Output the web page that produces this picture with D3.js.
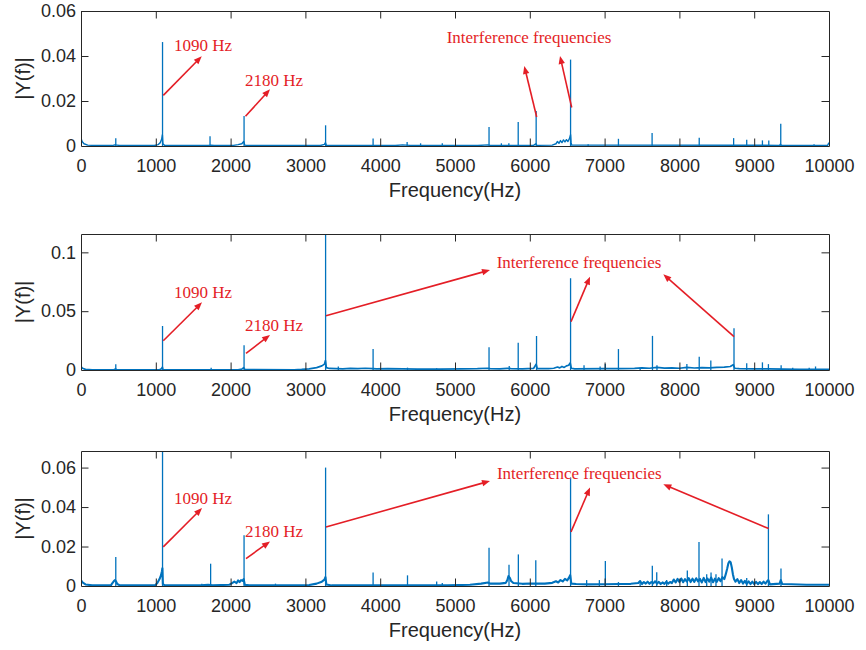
<!DOCTYPE html>
<html><head><meta charset="utf-8">
<script src="https://cdn.jsdelivr.net/npm/d3@7/dist/d3.min.js"></script>
<style>body{margin:0;background:#fff}svg{display:block}</style>
</head><body><svg id="c" width="866" height="650"></svg>
<script>
// ---------------- DATA ----------------
const xTickValues = [0,1000,2000,3000,4000,5000,6000,7000,8000,9000,10000];
const p1YTicks = [0,0.02,0.04,0.06];
const p2YTicks = [0,0.05,0.1];
const p3YTicks = [0,0.02,0.04,0.06];
const yMaxes = [0.06, 0.1156, 0.0684];

// spectral lines [frequency Hz, |Y(f)|]
const p1Peaks = [[465,0.0034],[1090,0.0462],[1725,0.0043],[2180,0.0133],[3270,0.0092],[3905,0.0033],[4360,0.0018],[4540,0.0012],[4830,0.0012],[5455,0.0084],[5620,0.0012],[5720,0.0012],[5845,0.0107],[6085,0.0156],[6545,0.0384],[6780,0.0008],[7185,0.0032],[7635,0.0058],[8265,0.0037],[8725,0.0035],[8900,0.0028],[9110,0.0025],[9195,0.0025],[9355,0.0099],[9800,0.0008]];
const p2Peaks = [[465,0.0048],[1090,0.0374],[1740,0.002],[2180,0.021],[3270,0.1156],[3440,0.003],[3905,0.0178],[4365,0.002],[4755,0.0015],[5455,0.0193],[5725,0.0035],[5845,0.0232],[6090,0.0289],[6545,0.078],[6725,0.004],[6940,0.003],[7010,0.005],[7185,0.0178],[7475,0.002],[7640,0.029],[7700,0.004],[8100,0.005],[8265,0.0113],[8420,0.008],[8730,0.0355],[8900,0.0057],[9110,0.0065],[9190,0.005],[9360,0.004],[9515,0.002],[9735,0.002],[9820,0.003]];
const p3Peaks = [[465,0.0147],[1090,0.0684],[1615,0.0012],[1733,0.0113],[2180,0.0257],[2600,0.0012],[3270,0.060],[3905,0.0068],[4365,0.0054],[4755,0.0023],[4830,0.0015],[5455,0.0194],[5722,0.0108],[5847,0.016],[6080,0.013],[6545,0.055],[6760,0.003],[6930,0.003],[7010,0.0127],[7185,0.002],[7475,0.002],[7638,0.0103],[7697,0.007],[7830,0.003],[8106,0.0078],[8262,0.0223],[8365,0.006],[8423,0.0068],[8489,0.006],[8570,0.0139],[8900,0.004],[9190,0.0363],[9358,0.0089]];

// background spectrum / skirts [frequency Hz, |Y(f)|]
const p1Floor = [[0,0.0035],[15,0.002],[40,0.001],[90,0.0004],[200,0.0002],[420,0.0002],[450,0.0005],[480,0.0004],[520,0.0002],[980,0.0002],[1030,0.0006],[1060,0.0015],[1078,0.003],[1088,0.005],[1095,0.001],[1120,0.0002],[1700,0.0002],[1740,0.0004],[1780,0.0002],[2040,0.0003],[2100,0.0006],[2150,0.001],[2175,0.002],[2190,0.0004],[2230,0.0002],[3200,0.0002],[3255,0.0007],[3268,0.0015],[3280,0.0003],[4200,0.0002],[4300,0.0005],[4400,0.0003],[5300,0.0002],[5440,0.0005],[5470,0.0003],[6050,0.0003],[6080,0.001],[6095,0.0003],[6300,0.0004],[6350,0.001],[6370,0.002],[6390,0.0012],[6410,0.0024],[6430,0.0015],[6450,0.0027],[6470,0.0018],[6490,0.0028],[6510,0.002],[6530,0.0033],[6545,0.005],[6552,0.0015],[6560,0.0004],[9340,0.0003],[9350,0.0008],[9365,0.0002],[9980,0.0002],[10000,0.0015]];
const p2Floor = [[0,0.003],[20,0.0015],[60,0.0005],[150,0.0002],[440,0.0002],[460,0.0008],[480,0.0002],[1050,0.0002],[1075,0.001],[1088,0.0025],[1095,0.0004],[2100,0.0002],[2150,0.0008],[2175,0.002],[2190,0.0004],[2850,0.0002],[2950,0.0005],[3050,0.001],[3150,0.002],[3220,0.0035],[3255,0.005],[3268,0.008],[3280,0.002],[3320,0.0013],[3500,0.001],[3600,0.0014],[3700,0.0011],[3800,0.0015],[3900,0.0012],[3950,0.001],[4100,0.0011],[4300,0.0009],[4500,0.0008],[4800,0.0008],[5100,0.0009],[5300,0.0011],[5440,0.0015],[5470,0.0012],[5600,0.001],[5700,0.0014],[5750,0.0012],[5900,0.001],[6050,0.0013],[6085,0.005],[6100,0.0012],[6250,0.0012],[6320,0.0015],[6370,0.0025],[6400,0.0018],[6430,0.003],[6460,0.0022],[6490,0.0035],[6520,0.004],[6540,0.006],[6555,0.0015],[6600,0.001],[7000,0.0012],[7200,0.0012],[7400,0.0013],[7500,0.0018],[7600,0.0015],[7700,0.0022],[7800,0.0016],[7900,0.0018],[8000,0.0015],[8100,0.0022],[8200,0.0017],[8300,0.002],[8400,0.0018],[8500,0.0022],[8600,0.0025],[8680,0.003],[8720,0.0045],[8740,0.0015],[8800,0.0012],[9000,0.001],[9200,0.0009],[9400,0.0007],[9600,0.0006],[9800,0.0005],[10000,0.0006]];
const p3Floor = [[0,0.003],[20,0.0018],[60,0.0008],[150,0.0003],[400,0.0003],[420,0.0015],[440,0.0025],[455,0.003],[470,0.0022],[485,0.001],[520,0.0003],[990,0.0003],[1020,0.0015],[1050,0.0035],[1070,0.0055],[1082,0.0075],[1088,0.009],[1095,0.001],[1120,0.0003],[1600,0.0003],[1700,0.0006],[1760,0.0004],[1980,0.0006],[2020,0.0015],[2050,0.0022],[2080,0.0015],[2100,0.0028],[2120,0.002],[2140,0.003],[2160,0.0026],[2175,0.0035],[2190,0.0006],[2250,0.0003],[2950,0.0003],[3050,0.0005],[3150,0.0012],[3220,0.0022],[3255,0.0032],[3268,0.0045],[3280,0.0008],[3350,0.0003],[3900,0.0004],[4500,0.0003],[4900,0.0004],[5200,0.0006],[5350,0.0012],[5440,0.0018],[5470,0.0012],[5600,0.0012],[5680,0.0016],[5700,0.003],[5715,0.005],[5735,0.004],[5750,0.0025],[5780,0.0015],[5900,0.0011],[6000,0.0013],[6200,0.0012],[6300,0.0016],[6350,0.0024],[6380,0.0018],[6410,0.003],[6440,0.0023],[6470,0.0036],[6500,0.0028],[6520,0.004],[6540,0.0055],[6555,0.0012],[6620,0.001],[6800,0.0008],[7000,0.0009],[7200,0.001],[7350,0.0011],[7450,0.0015],[7475,0.0025],[7500,0.001],[7525,0.002],[7550,0.0012],[7575,0.0022],[7600,0.0011],[7625,0.002],[7650,0.0013],[7675,0.0024],[7700,0.0012],[7725,0.0021],[7750,0.001],[7775,0.0018],[7800,0.0011],[7825,0.0022],[7850,0.0012],[7875,0.002],[7900,0.0015],[7925,0.0033],[7950,0.0018],[7975,0.0036],[8000,0.002],[8025,0.0038],[8050,0.0019],[8075,0.0035],[8100,0.0022],[8125,0.004],[8150,0.002],[8175,0.0037],[8200,0.0021],[8225,0.0039],[8250,0.0023],[8275,0.0036],[8300,0.0018],[8325,0.0041],[8350,0.002],[8375,0.0038],[8400,0.0022],[8425,0.0043],[8450,0.0019],[8475,0.0037],[8500,0.0021],[8525,0.004],[8550,0.0024],[8575,0.0045],[8600,0.0035],[8620,0.006],[8640,0.009],[8655,0.0115],[8670,0.0125],[8685,0.012],[8700,0.0095],[8715,0.006],[8730,0.0035],[8750,0.0022],[8775,0.0035],[8800,0.0015],[8825,0.003],[8850,0.0012],[8875,0.0026],[8900,0.0011],[8925,0.0024],[8950,0.001],[8975,0.0022],[9000,0.001],[9025,0.0021],[9050,0.0009],[9075,0.002],[9100,0.001],[9125,0.0022],[9150,0.0012],[9175,0.0025],[9190,0.003],[9210,0.0008],[9340,0.0012],[9355,0.003],[9375,0.001],[9500,0.0009],[9700,0.0006],[10000,0.0006]];

// annotations (data coordinates)
const p1Labels = [["1090 Hz",1243,0.0421],["2180 Hz",2193,0.0265],["Interference frequencies",4889,0.0456]];
const p2Labels = [["1090 Hz",1243,0.0615],["2180 Hz",2193,0.0332],["Interference frequencies",5557,0.087]];
const p3Labels = [["1090 Hz",1243,0.0416],["2180 Hz",2193,0.0248],["Interference frequencies",5561,0.0544]];
const p1Arrows = [[1100,0.0225,1614,0.0399],[2199,0.0132,2527,0.0252],[6092,0.0129,5926,0.0356],[6560,0.0171,6404,0.04]];
const p2Arrows = [[1100,0.0249,1618,0.0575],[2206,0.0142,2527,0.0298],[3275,0.0462,5468,0.085],[6551,0.0411,6805,0.0793],[8730,0.0283,7785,0.0814]];
const p3Arrows = [[1100,0.0198,1618,0.0395],[2206,0.0139,2527,0.0226],[3275,0.0299,5468,0.0532],[6551,0.0274,6805,0.0499],[9193,0.0291,7785,0.0515]];

const xLabel = "Frequency(Hz)";
const yLabel = "|Y(f)|";

// ---------------- DRAW ----------------
const svg = d3.select("#c");
const L = 81, R = 829;
const layout = [{top:11,bottom:146,fw:1.4},{top:234,bottom:370,fw:1.7},{top:451,bottom:586,fw:2.1}];
const panels = [
  {yt:p1YTicks, peaks:p1Peaks, floor:p1Floor, labels:p1Labels, arrows:p1Arrows},
  {yt:p2YTicks, peaks:p2Peaks, floor:p2Floor, labels:p2Labels, arrows:p2Arrows},
  {yt:p3YTicks, peaks:p3Peaks, floor:p3Floor, labels:p3Labels, arrows:p3Arrows}
];
const AX = "#262626", BLUE = "#0072BD", RED = "#e41e26";
const TICK = 7.5;

panels.forEach((p, i) => {
  const {top, bottom, fw} = layout[i];
  const x = d3.scaleLinear().domain([0,10000]).range([L,R]);
  const y = d3.scaleLinear().domain([0,yMaxes[i]]).range([bottom,top]);
  const g = svg.append("g");
  const cid = "clip"+i;
  svg.append("clipPath").attr("id",cid).append("rect")
    .attr("x",L).attr("y",top).attr("width",R-L).attr("height",bottom-top);

  const plot = g.append("g").attr("clip-path",`url(#${cid})`);
  plot.selectAll("line.pk").data(p.peaks).join("line")
    .attr("x1",d=>x(d[0])).attr("x2",d=>x(d[0]))
    .attr("y1",y(0)).attr("y2",d=>y(d[1]))
    .attr("stroke",BLUE).attr("stroke-width",1.3);
  plot.append("path").datum(p.floor)
    .attr("d", d3.line().x(d=>x(d[0])).y(d=>y(d[1])))
    .attr("fill","none").attr("stroke",BLUE).attr("stroke-width",fw)
    .attr("stroke-linejoin","round");

  // axes with inward ticks
  const fontAxis = "'Liberation Sans', Arial, Helvetica, sans-serif";
  const xb = g.append("g").attr("transform",`translate(0,${bottom})`)
    .call(d3.axisBottom(x).tickValues(xTickValues).tickSizeInner(-TICK).tickSizeOuter(0).tickPadding(13).tickFormat(d3.format("d")));
  const xt = g.append("g").attr("transform",`translate(0,${top})`)
    .call(d3.axisTop(x).tickValues(xTickValues).tickSizeInner(-TICK).tickSizeOuter(0).tickFormat(""));
  const yl = g.append("g").attr("transform",`translate(${L},0)`)
    .call(d3.axisLeft(y).tickValues(p.yt).tickSizeInner(-TICK).tickSizeOuter(0).tickPadding(5).tickFormat(d=>String(d)));
  const yr = g.append("g").attr("transform",`translate(${R},0)`)
    .call(d3.axisRight(y).tickValues(p.yt).tickSizeInner(-TICK).tickSizeOuter(0).tickFormat(""));
  [xb,xt,yl,yr].forEach(a=>{
    a.selectAll("path.domain").attr("stroke",AX).attr("stroke-width",1);
    a.selectAll(".tick line").attr("stroke",AX).attr("stroke-width",1);
    a.selectAll("text").attr("fill",AX).style("font-family",fontAxis).style("font-size","18px");
  });
  [xb,xt].forEach(a=>a.selectAll(".tick line").filter(d=>d===0||d===10000).attr("stroke","none"));
  [yl,yr].forEach(a=>a.selectAll(".tick line").filter(d=>d===0).attr("stroke","none"));

  g.append("text").attr("x",(L+R)/2).attr("y",bottom+51).attr("text-anchor","middle")
    .attr("fill",AX).style("font-family",fontAxis).style("font-size","20px").text(xLabel);
  g.append("text").attr("transform",`translate(23,${(top+bottom)/2}) rotate(-90)`)
    .attr("text-anchor","middle").attr("dy","0.35em")
    .attr("fill",AX).style("font-family",fontAxis).style("font-size","20px").text(yLabel);

  // annotations
  g.selectAll("text.ann").data(p.labels).join("text")
    .attr("x",d=>x(d[1])).attr("y",d=>y(d[2]))
    .attr("fill",RED).style("font-family","'Liberation Serif','Times New Roman',serif")
    .style("font-size","17px").text(d=>d[0]);
  p.arrows.forEach(a=>{
    const x1=x(a[0]), y1=y(a[1]), x2=x(a[2]), y2=y(a[3]);
    const dx=x2-x1, dy=y2-y1, len=Math.hypot(dx,dy), ux=dx/len, uy=dy/len;
    const hl=8, hw=3.2;
    const bx=x2-ux*hl, by=y2-uy*hl;
    g.append("line").attr("x1",x1).attr("y1",y1).attr("x2",bx+ux).attr("y2",by+uy)
      .attr("stroke",RED).attr("stroke-width",1.6);
    g.append("path").attr("d",`M${x2},${y2}L${bx-uy*hw},${by+ux*hw}L${bx+uy*hw},${by-ux*hw}Z`)
      .attr("fill",RED);
  });
});
</script></body></html>
